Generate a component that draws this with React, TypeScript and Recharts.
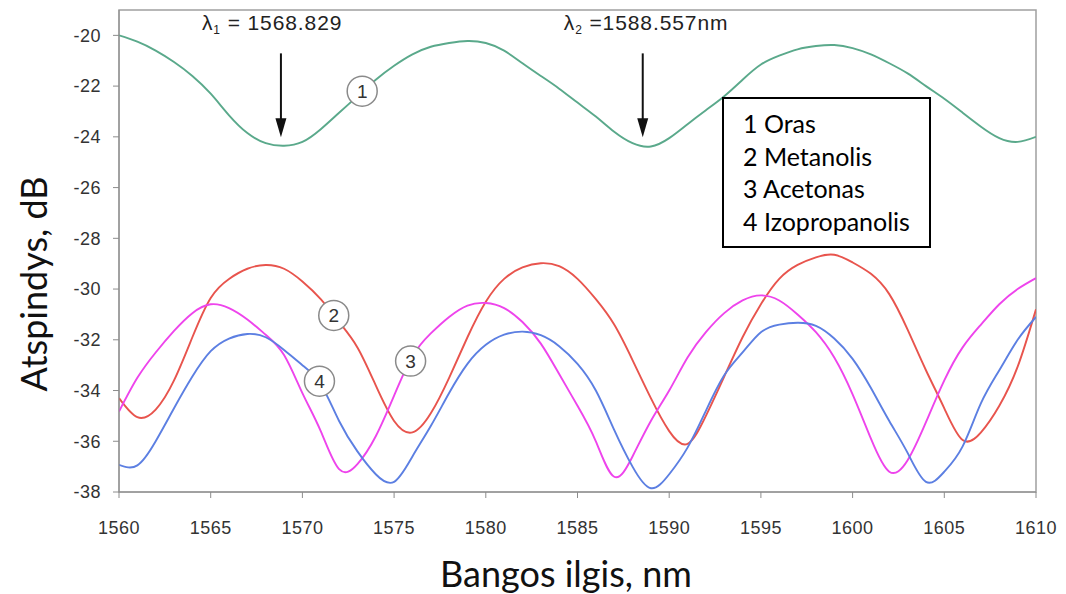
import {
  LineChart,
  Line,
  XAxis,
  YAxis,
  Legend,
  Label,
  ReferenceArea,
  ReferenceLine,
  ReferenceDot,
} from "recharts";

// wavelength grid (nm) and reflection (dB) for each liquid
const wavelengths = [
  1560, 1561, 1562, 1563, 1564, 1565, 1566, 1567, 1568, 1569,
  1570, 1571, 1572, 1573, 1574, 1575, 1576, 1577, 1578, 1579,
  1580, 1581, 1582, 1583, 1584, 1585, 1586, 1587, 1588, 1589,
  1590, 1591, 1592, 1593, 1594, 1595, 1596, 1597, 1598, 1599,
  1600, 1601, 1602, 1603, 1604, 1605, 1606, 1607, 1608, 1609, 1610,
];
const oras = [
  -20.0, -20.25, -20.6, -21.05, -21.6, -22.3, -23.15, -23.85, -24.25, -24.35,
  -24.2, -23.7, -23.05, -22.4, -21.75, -21.2, -20.75, -20.45, -20.3, -20.22,
  -20.3, -20.6, -21.1, -21.6, -22.1, -22.65, -23.2, -23.8, -24.25, -24.38,
  -24.05, -23.5, -22.95, -22.4, -21.75, -21.15, -20.8, -20.55, -20.42, -20.38,
  -20.5, -20.75, -21.1, -21.5, -22.0, -22.5, -23.05, -23.6, -24.05, -24.2, -24.0,
];
const metanolis = [
  -34.3, -35.05, -34.75, -33.6, -31.9, -30.35, -29.6, -29.2, -29.05, -29.2,
  -29.7, -30.4, -31.3, -32.3, -33.8, -35.2, -35.65, -34.9, -33.5, -31.9,
  -30.5, -29.6, -29.15, -28.98, -29.1, -29.6, -30.4, -31.4, -32.8, -34.3,
  -35.6, -36.1, -35.0, -33.45, -31.9, -30.6, -29.6, -29.05, -28.75, -28.65,
  -28.95, -29.4, -30.2, -31.6, -33.2, -34.7, -35.95, -35.65, -34.6, -33.06, -30.8,
];
const acetonas = [
  -34.83, -33.5, -32.5, -31.65, -30.95, -30.6, -30.75, -31.2, -31.8, -32.6,
  -34.1, -35.6, -37.1, -36.9, -35.8, -34.2, -32.65, -31.75, -31.1, -30.65,
  -30.55, -30.75, -31.3, -32.15, -33.35, -34.6, -36.0, -37.4, -36.6, -35.2,
  -34.0, -32.7, -31.7, -30.95, -30.45, -30.25, -30.45, -31.0, -31.7, -32.7,
  -34.15, -35.9, -37.2, -36.75, -35.25, -33.6, -32.3, -31.4, -30.6, -30.0, -29.57,
];
const izopropanolis = [
  -36.93, -36.95, -36.0, -34.7, -33.45, -32.45, -31.95, -31.77, -31.9, -32.4,
  -33.0, -33.75, -35.2, -36.4, -37.3, -37.6, -36.6, -35.4, -34.1, -32.95,
  -32.2, -31.8, -31.68, -31.82, -32.25, -32.95, -34.0, -35.55, -37.0, -37.85,
  -37.3, -36.25, -34.8, -33.4, -32.5, -31.7, -31.4, -31.33, -31.45, -31.95,
  -32.75, -33.9, -35.2, -36.46, -37.6, -37.2, -36.2, -34.5, -33.2, -32.0, -31.1,
];

const seriesKeys = ["oras", "metanolis", "acetonas", "izopropanolis"];
const seriesNames = ["Oras", "Metanolis", "Acetonas", "Izopropanolis"];
const seriesColors = ["#5aa98b", "#e8544d", "#ee44ec", "#5c7fe2"];

const xTicks = [1560, 1565, 1570, 1575, 1580, 1585, 1590, 1595, 1600, 1605, 1610];
const yTicks = [-38, -36, -34, -32, -30, -28, -26, -24, -22, -20];

// resonance minima marked with arrows
const lambdaValues = [1568.829, 1588.557];
const lambdaTexts = [" = 1568.829", " =1588.557nm"];

// numbered circles placed next to the curves
const markerX = [1573.26, 1571.71, 1575.9, 1570.93];
const markerY = [-22.2, -31.04, -32.84, -33.63];

const data = wavelengths.map((wl, i) => ({
  wl,
  oras: oras[i],
  metanolis: metanolis[i],
  acetonas: acetonas[i],
  izopropanolis: izopropanolis[i],
}));

const tickStyle = { fontSize: 18, fill: "#333", fontFamily: "Liberation Sans, Arial, sans-serif", letterSpacing: 0.5 };

function ArrowShape(props: any) {
  const { x1, y1, x2, y2, index } = props;
  return (
    <g>
      <line x1={x1} y1={y1} x2={x2} y2={y2 - 16} stroke="#111" strokeWidth={2} />
      <polygon points={`${x2 - 5.5},${y2 - 19} ${x2 + 5.5},${y2 - 19} ${x2},${y2}`} fill="#111" />
      <text
        x={x1 - 79}
        y={y1 - 23}
        fontSize={21}
        fill="#222"
        fontFamily="Liberation Sans, Arial, sans-serif"
        letterSpacing={0.9}
      >
        λ
        <tspan fontSize={12} dy={4}>{index + 1}</tspan>
        <tspan dy={-4}>{lambdaTexts[index]}</tspan>
      </text>
    </g>
  );
}

function LegendBox() {
  return (
    <div
      style={{
        border: "2px solid #000",
        background: "#fff",
        width: 209,
        height: 151,
        boxSizing: "border-box",
        padding: "8px 0 0 19px",
        fontFamily: "Lato, sans-serif",
        fontSize: 25,
        lineHeight: "32.5px",
        color: "#000",
        textAlign: "left",
      }}
    >
      {seriesNames.map((n, i) => (
        <div key={n}>{`${i + 1} ${n}`}</div>
      ))}
    </div>
  );
}

export default function App() {
  return (
    <div style={{ position: "absolute", left: 0, top: 0, width: 1066, height: 594, background: "#fff" }}>
      <LineChart width={1066} height={594} data={data} margin={{ top: 10, right: 30, bottom: 42, left: 40 }}>
        <XAxis
          dataKey="wl"
          type="number"
          domain={[1560, 1610]}
          ticks={xTicks}
          allowDataOverflow
          height={60}
          tick={tickStyle}
          tickSize={6}
          tickMargin={23}
          stroke="#8c8c8c"
        >
          <Label
            content={() => (
              <text x={566} y={587} textAnchor="middle" fontSize={36} fontFamily="Lato, sans-serif" fill="#111">
                Bangos ilgis, nm
              </text>
            )}
          />
        </XAxis>
        <YAxis
          type="number"
          domain={[-38, -19]}
          ticks={yTicks}
          allowDataOverflow
          width={79}
          tick={tickStyle}
          tickSize={6}
          tickMargin={12}
          stroke="#8c8c8c"
        >
          <Label
            content={() => (
              <text
                transform="translate(47,284) rotate(-90)"
                textAnchor="middle"
                fontSize={36}
                fontFamily="Lato, sans-serif"
                fill="#111"
              >
                Atspindys, dB
              </text>
            )}
          />
        </YAxis>
        <ReferenceArea x1={1560} x2={1610} y1={-38} y2={-19} fill="none" stroke="#a0a0a0" strokeWidth={1.5} />
        {seriesKeys.map((k, i) => (
          <Line
            key={k}
            dataKey={k}
            name={`${i + 1} ${seriesNames[i]}`}
            type="natural"
            stroke={seriesColors[i]}
            strokeWidth={1.9}
            dot={false}
            isAnimationActive={false}
          />
        ))}
        {lambdaValues.map((wl, i) => (
          <ReferenceLine
            key={wl}
            segment={[
              { x: wl, y: -20.71 },
              { x: wl, y: -24.02 },
            ]}
            shape={(p: any) => <ArrowShape {...p} index={i} />}
          />
        ))}
        {markerX.map((mx, i) => (
          <ReferenceDot
            key={i}
            x={mx}
            y={markerY[i]}
            r={15}
            fill="#fff"
            stroke="#8a8a8a"
            strokeWidth={1.5}
            label={{
              value: String(i + 1),
              position: "center",
              fontSize: 19,
              fill: "#333",
              fontFamily: "Liberation Sans, Arial, sans-serif",
            }}
          />
        ))}
        <Legend
          layout="horizontal"
          verticalAlign="middle"
          content={() => <LegendBox />}
          wrapperStyle={{ left: 722, top: 97, width: 209, height: 151 }}
        />
      </LineChart>
    </div>
  );
}
